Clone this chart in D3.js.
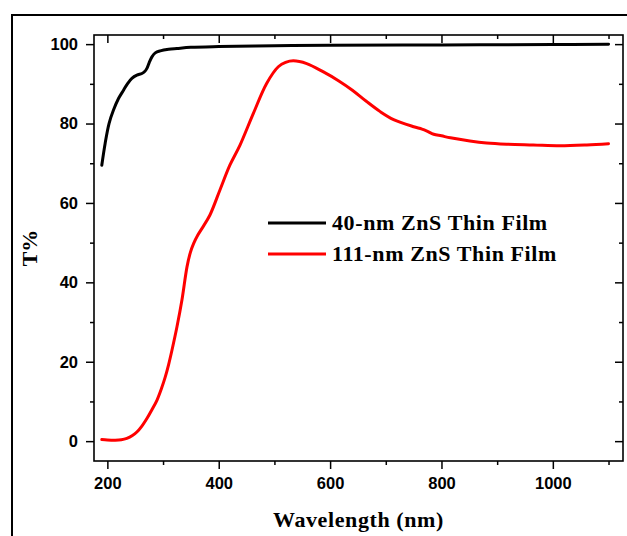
<!DOCTYPE html>
<html>
<head>
<meta charset="utf-8">
<script src="https://cdn.jsdelivr.net/npm/d3@7"></script>
<style>
  html, body { margin: 0; padding: 0; background: #fff; }
  svg { display: block; }
</style>
</head>
<body>
<script>
// Transmittance spectra of ZnS thin films
const wavelength40 = [190,196,203,211,220,229,236,244,253,262,267,271,275,280,286,295,310,325,350,400,500,600,800,1000,1100];
const transmit40   = [69.5,75,80,83.4,86.3,88.4,90,91.4,92.2,92.6,93.1,93.9,95.3,96.8,97.8,98.3,98.7,98.9,99.2,99.4,99.6,99.7,99.8,99.9,100];

const wavelength111 = [190,200,214,225,235,245,253,262,271,280,289,297,304,310,316,325,334,343,349,355,362,370,384,402,420,438,462,486,507,520,534,558,588,615,640,665,690,714,750,765,774,786,800,816,851,881,917,965,1013,1061,1100];
const transmit111   = [0.4,0.3,0.25,0.35,0.7,1.4,2.3,3.8,5.7,7.9,10.3,13.2,16.2,19.3,22.9,28.8,35.6,43.9,47.5,49.8,51.8,53.6,56.9,63.2,69.5,74.5,82.5,90.1,94.3,95.4,95.8,95.1,93.0,90.8,88.4,85.6,83.0,81.0,79.2,78.6,78.1,77.3,76.9,76.4,75.6,75.1,74.8,74.6,74.4,74.6,74.9];

const seriesNames  = ["40-nm ZnS Thin Film", "111-nm ZnS Thin Film"];
const seriesColors = ["#000000", "#ff0000"];

const xMajorTicks = [200, 400, 600, 800, 1000];
const xMinorTicks = [300, 500, 700, 900, 1100];
const yMajorTicks = [0, 20, 40, 60, 80, 100];
const yMinorTicks = [10, 30, 50, 70, 90];

const W = 627, H = 536;
const plot = { left: 94, top: 35, right: 623, bottom: 461 };

const svg = d3.select("body").append("svg").attr("width", W).attr("height", H);

// outer frame
svg.append("rect")
  .attr("x", 12).attr("y", 15).attr("width", 700).attr("height", 600)
  .attr("fill", "none").attr("stroke", "#000").attr("stroke-width", 2);

const x = d3.scaleLinear().domain([176, 1126]).range([plot.left, plot.right]);
const y = d3.scaleLinear().domain([-5, 102.3]).range([plot.bottom, plot.top]);

const tickFont = "bold 16.5px 'Liberation Sans', Arial, sans-serif";

function styleAxis(g) {
  g.select(".domain").remove();
  g.selectAll("line").attr("stroke", "#000").attr("stroke-width", 1.5);
}

// bottom axis (major + minor)
svg.append("g").attr("transform", `translate(0,${plot.bottom})`)
  .call(d3.axisBottom(x).tickValues(xMajorTicks).tickSize(8).tickPadding(8).tickFormat(d3.format("d")))
  .call(styleAxis)
  .call(g => g.selectAll("text").style("font", tickFont).attr("fill", "#000"));
svg.append("g").attr("transform", `translate(0,${plot.bottom})`)
  .call(d3.axisBottom(x).tickValues(xMinorTicks).tickSize(4).tickFormat(""))
  .call(styleAxis);

// top mirror axis, ticks inward
svg.append("g").attr("transform", `translate(0,${plot.top})`)
  .call(d3.axisBottom(x).tickValues(xMajorTicks).tickSize(8).tickFormat(""))
  .call(styleAxis);
svg.append("g").attr("transform", `translate(0,${plot.top})`)
  .call(d3.axisBottom(x).tickValues(xMinorTicks).tickSize(4).tickFormat(""))
  .call(styleAxis);

// left axis
svg.append("g").attr("transform", `translate(${plot.left},0)`)
  .call(d3.axisLeft(y).tickValues(yMajorTicks).tickSize(8).tickPadding(8).tickFormat(d3.format("d")))
  .call(styleAxis)
  .call(g => g.selectAll("text").style("font", tickFont).attr("fill", "#000"));
svg.append("g").attr("transform", `translate(${plot.left},0)`)
  .call(d3.axisLeft(y).tickValues(yMinorTicks).tickSize(4).tickFormat(""))
  .call(styleAxis);

// right mirror axis, ticks inward
svg.append("g").attr("transform", `translate(${plot.right},0)`)
  .call(d3.axisLeft(y).tickValues(yMajorTicks).tickSize(8).tickFormat(""))
  .call(styleAxis);
svg.append("g").attr("transform", `translate(${plot.right},0)`)
  .call(d3.axisLeft(y).tickValues(yMinorTicks).tickSize(4).tickFormat(""))
  .call(styleAxis);

// plot frame
svg.append("rect")
  .attr("x", plot.left).attr("y", plot.top)
  .attr("width", plot.right - plot.left).attr("height", plot.bottom - plot.top)
  .attr("fill", "none").attr("stroke", "#000").attr("stroke-width", 1.6);

// curves
const line = d3.line().x(d => x(d[0])).y(d => y(d[1])).curve(d3.curveCatmullRom.alpha(0.5));
const series = [
  d3.zip(wavelength40, transmit40),
  d3.zip(wavelength111, transmit111)
];
series.forEach((s, i) => {
  svg.append("path").datum(s)
    .attr("d", line)
    .attr("fill", "none")
    .attr("stroke", seriesColors[i])
    .attr("stroke-width", 3)
    .attr("stroke-linejoin", "round")
    .attr("stroke-linecap", "round");
});

// legend
const titleFont = "bold 22px 'Liberation Serif', 'Times New Roman', serif";
const legend = svg.append("g");
seriesNames.forEach((name, i) => {
  const cy = 223 + i * 31;
  legend.append("line")
    .attr("x1", 268).attr("x2", 326).attr("y1", cy).attr("y2", cy)
    .attr("stroke", seriesColors[i]).attr("stroke-width", 3);
  legend.append("text")
    .attr("x", 332).attr("y", cy + 7)
    .style("font", titleFont)
    .style("letter-spacing", "0.6px")
    .attr("fill", "#000")
    .text(name);
});

// axis titles
svg.append("text")
  .attr("x", (plot.left + plot.right) / 2).attr("y", 527)
  .attr("text-anchor", "middle")
  .style("font", titleFont)
  .style("letter-spacing", "0.6px")
  .attr("fill", "#000")
  .text("Wavelength (nm)");

svg.append("text")
  .attr("transform", `translate(37,${(plot.top + plot.bottom) / 2}) rotate(-90)`)
  .attr("text-anchor", "middle")
  .style("font", titleFont)
  .attr("fill", "#000")
  .text("T%");
</script>
</body>
</html>
